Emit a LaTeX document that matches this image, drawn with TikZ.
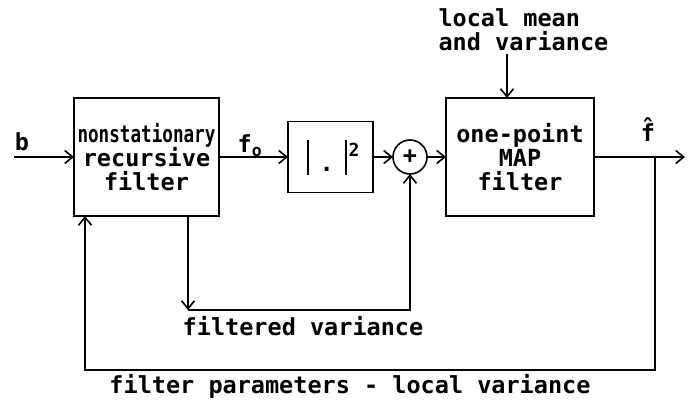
\documentclass[tikz,border=0pt]{standalone}
\usepackage{fontspec}
\setmonofont{DejaVu Sans Mono}
\usetikzlibrary{arrows.meta, positioning}

\begin{document}
\begin{tikzpicture}[x=1pt, y=-1pt, every node/.style={font=\ttfamily\bfseries\fontsize{23.5}{24}\selectfont}, box/.style={draw, line width=1.6pt, inner sep=0pt, outer sep=0pt, align=center}, arrow/.style={-{Straight Barb[length=8pt, width=13pt, line width=1.6pt]}, line width=1.6pt}]

\useasboundingbox (0,0) rectangle (690,401);

% blocks along the signal path
\node[box, minimum width=145pt, minimum height=118pt] (filt) at (146.5,157) {\scalebox{0.75}[1]{nonstationary}\\recursive\\filter};
\node[box, right=69pt of filt, minimum width=85pt, minimum height=71pt] (sq) {\hspace{5pt}\rule[-3pt]{2pt}{35pt}\hspace{11pt}.\hspace{11pt}\rule[-3pt]{2pt}{35pt}\hspace{2pt}\raisebox{15pt}{\fontsize{18}{18}\selectfont 2}};
\node[box, circle, right=20pt of sq, minimum size=34pt] (sum) {+};
\node[box, right=19pt of sum, minimum width=148pt, minimum height=118pt] (map) {one-point\\MAP\\filter};
\node[anchor=north west, align=left] (info) at (435,5) {local mean\\and variance};

% labels
\node (blab) at (22,142) {b};
\node (folab) at (250,146) {f\textsubscript{o}};
\node (fhlab) at (648,130) {\^{f}};
\node (fvlab) at (303,326) {filtered variance};
\node (fplab) at (350,386) {filter parameters - local variance};

\coordinate (in) at (14,157);
\path (map.east) ++(61,0) coordinate (tap) ++(30,0) coordinate (out);
\coordinate (var) at (188,310);
\coordinate (fbr) at (tap |- 0,370);
\coordinate (fbl) at (85,370);

\draw[arrow] (in) -- (in -| filt.west);
\draw[arrow] (filt.east) -- (sq.west);
\draw[arrow] (sq.east) -- (sum.west);
\draw[arrow] (sum.east) -- (map.west);
\draw[arrow] (map.east) -- (out);
\draw[arrow] ([xshift=-13pt]map.north |- info.south) -- ([xshift=-13pt]map.north);
\draw[arrow] (var |- filt.south) -- (var);
\draw[arrow] (var) -- (var -| sum.south) -- (sum.south);
\draw[arrow] (tap) -- (fbr) -- (fbl) -- (fbl |- filt.south);

\end{tikzpicture}
\end{document}
